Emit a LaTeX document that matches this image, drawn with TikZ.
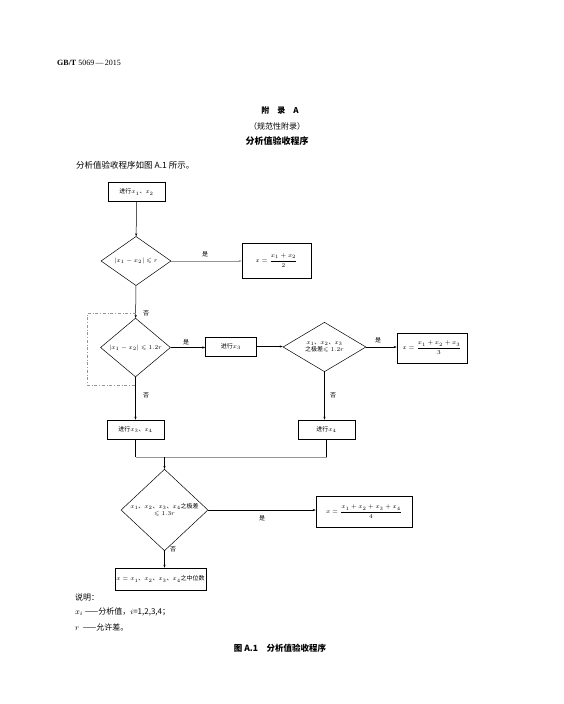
\documentclass[tikz,border=0pt]{standalone}
\usepackage{amsmath,amssymb}
\usepackage{fontspec}
\setmainfont{Liberation Serif}
\newfontfamily\cjk{Noto Sans CJK SC}
\usepackage{tikz}
\usetikzlibrary{shapes.geometric,arrows.meta,positioning}
\definecolor{faint}{RGB}{150,150,150}

\begin{document}
\begin{tikzpicture}[
  x=1pt,y=-1pt,
  font=\cjk\fontsize{6}{7}\selectfont,
  box/.style={draw,line width=0.6pt,minimum width=57pt,minimum height=19pt,inner sep=1pt,align=center},
  judge/.style={draw,diamond,line width=0.5pt,inner sep=0pt,align=center},
  arr/.style={-{Stealth[length=3pt,width=2.2pt]},line width=0.5pt},
  lbl/.style={inner sep=0pt},
  txt/.style={inner sep=0pt,anchor=west,font=\cjk\fontsize{8}{9}\selectfont},
]
\useasboundingbox (0,0) rectangle (563,704);

% 页眉与标题
\node[inner sep=0pt,anchor=west,font=\fontsize{8}{9}\selectfont] (hdr) at (57,63) {\textbf{GB/T} 5069\,—\,2015};
\node[inner sep=0pt,font=\cjk\bfseries\fontsize{8}{9}\selectfont] (appx) at (280,110) {附\quad 录\quad A};
\node[inner sep=0pt,font=\cjk\fontsize{8}{9}\selectfont] (norm) at (277,126) {（规范性附录）};
\node[inner sep=0pt,font=\cjk\bfseries\fontsize{9}{10}\selectfont] (title) at (277,141) {分析值验收程序};
\node[txt,font=\cjk\fontsize{8.5}{10}\selectfont] (intro) at (76,165) {分析值验收程序如图 A.1 所示。};

% 第一步
\node[box] (start) at (136.5,192) {进行$x_1$、$x_2$};
\node[judge,minimum width=70pt,minimum height=36pt] (d1) at (136,261) {$|x_1-x_2|\leqslant r$};
\node[box,minimum width=69pt,minimum height=35pt] (r1) at (276.5,260.5) {$x=\dfrac{x_1+x_2}{2}$};

% 第二步
\node[judge,minimum width=70pt,minimum height=37pt] (d2) at (135.5,347.5) {$|x_1-x_2|\leqslant 1.2r$};
\node[box,minimum width=51pt] (x3) at (231,346.5) {进行$x_3$};
\node[judge,minimum width=83pt,minimum height=48pt] (d3) at (324.5,347) {$x_1$、$x_2$、$x_3$\\之极差$\leqslant 1.2r$};
\node[box,minimum width=70pt,minimum height=30pt] (r2) at (432,348) {$x=\dfrac{x_1+x_2+x_3}{3}$};

% 第三步
\node[box] (b34) at (135.5,429.5) {进行$x_3$、$x_4$};
\node[box] (b4) at (326.5,429.5) {进行$x_4$};
\coordinate (jl) at (135.5,457);
\coordinate (jr) at (326.5,457);
\coordinate (jm) at (164.5,457);
\node[judge,minimum width=87pt,minimum height=58pt] (d4) at (164.5,510) {$x_1$、$x_2$、$x_3$、$x_4$之极差\\$\leqslant 1.3r$};
\node[box,minimum width=96pt,minimum height=31pt] (r3) at (364,512) {$x=\dfrac{x_1+x_2+x_3+x_4}{4}$};
\node[box,minimum width=91pt,minimum height=22pt] (med) at (160.5,579) {$x=x_1$、$x_2$、$x_3$、$x_4$之中位数};

% 判断标注
\node[lbl] (y1) at (205,254) {是};
\node[lbl] (n1) at (146,313) {否};
\node[lbl] (y2) at (186,342) {是};
\node[lbl] (y3) at (378,340) {是};
\node[lbl] (n2) at (146,395) {否};
\node[lbl] (n3) at (333,395) {否};
\node[lbl] (y4) at (262,518) {是};
\node[lbl] (n4) at (173,549) {否};

% 箭头
\draw[arr] (start) -- (d1);
\draw[arr,faint] (d1.east) -- (d1.east -| r1.west);
\draw[arr] (d1) -- (d2);
\draw[arr] (d2.east) -- (d2.east -| x3.west);
\draw[arr] (x3.east) -- (x3.east -| d3.west);
\draw[arr] (d3.east) -- (d3.east -| r2.west);
\draw[arr] (d2) -- (b34);
\draw[arr] (d3.south) -- (d3.south |- b4.north);
\draw[line width=0.5pt] (b34) -- (jl);
\draw[line width=0.5pt] (b4) -- (jr);
\draw[line width=0.5pt,faint] (jl) -- (jr);
\draw[arr] (jm) -- (d4);
\draw[arr] (d4.east) -- (d4.east -| r3.west);
\draw[arr] (d4.south) -- (d4.south |- med.north);

% 点划线框
\coordinate (la) at (135.5,313);
\coordinate (lb) at (87,313);
\coordinate (lc) at (87,385);
\coordinate (ld) at (135.5,385);
\draw[faint,line width=0.5pt,dash dot] (la) -- (lb) -- (lc) -- (ld);

% 说明
\node[txt] (note) at (75,597) {说明：};
\node[txt] (note1) at (75,612) {$x_i$\ ——分析值，$i$=1,2,3,4；};
\node[txt] (note2) at (75,627) {$r$\ \ ——允许差。};
\node[inner sep=0pt,font=\cjk\bfseries\fontsize{8.5}{10}\selectfont] (cap) at (280,648) {图\ A.1\quad 分析值验收程序};

\end{tikzpicture}
\end{document}
